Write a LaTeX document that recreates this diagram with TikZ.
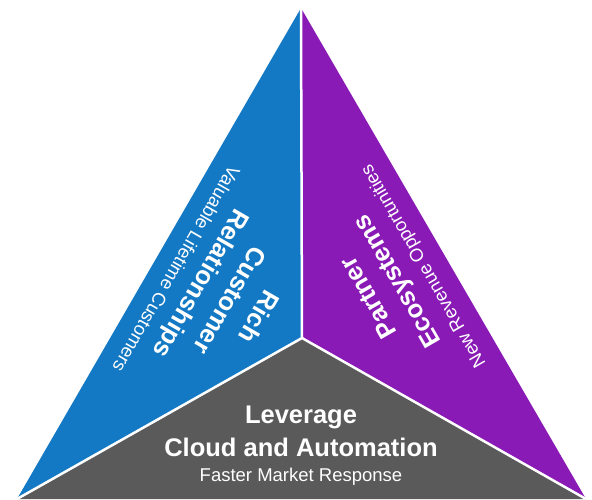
\documentclass[tikz,border=0pt]{standalone}
\usepackage{fontspec}
\setmainfont{Liberation Sans}

\definecolor{richblue}{HTML}{1479C4}
\definecolor{partnerpurple}{HTML}{8A1AB6}
\definecolor{cloudgrey}{HTML}{5A5A5A}

\newcommand{\subline}[1]{{\mdseries\fontsize{18.5}{22}\selectfont #1}}

\tikzset{
  facetext/.style={text=white, align=center, inner sep=0pt,
    font=\bfseries\fontsize{25.5}{33}\selectfont},
  divider/.style={white, line width=2.5pt}
}

\begin{document}
\begin{tikzpicture}[x=1pt, y=1pt]
\useasboundingbox (0,0) rectangle (592,499);

\coordinate (top) at (301,491);
\coordinate (mid) at (302,161);
\coordinate (left) at (17,0);
\coordinate (right) at (586,0);

% three faces
\fill [richblue](top)--(mid)--(left)--cycle;
\fill [partnerpurple](top)--(right)--(mid)--cycle;
\fill [cloudgrey](left)--(mid)--(right)--cycle;

\draw [divider](top)--(mid);
\draw [divider](left)--(mid)--(right);

\node [facetext, rotate=-120] (rich) at (219,205)
  {Rich\\Customer\\Relationships\\[-6pt]\subline{Valuable Lifetime Customers}};
\node [facetext, rotate=120] (partner) at (396,217)
  {Partner\\Ecosystems\\[-5pt]\subline{New Revenue Opportunities}};
\node [facetext] (cloud) at (301,53)
  {Leverage\\Cloud and Automation\\[-8pt]\subline{Faster Market Response}};
\end{tikzpicture}
\end{document}
